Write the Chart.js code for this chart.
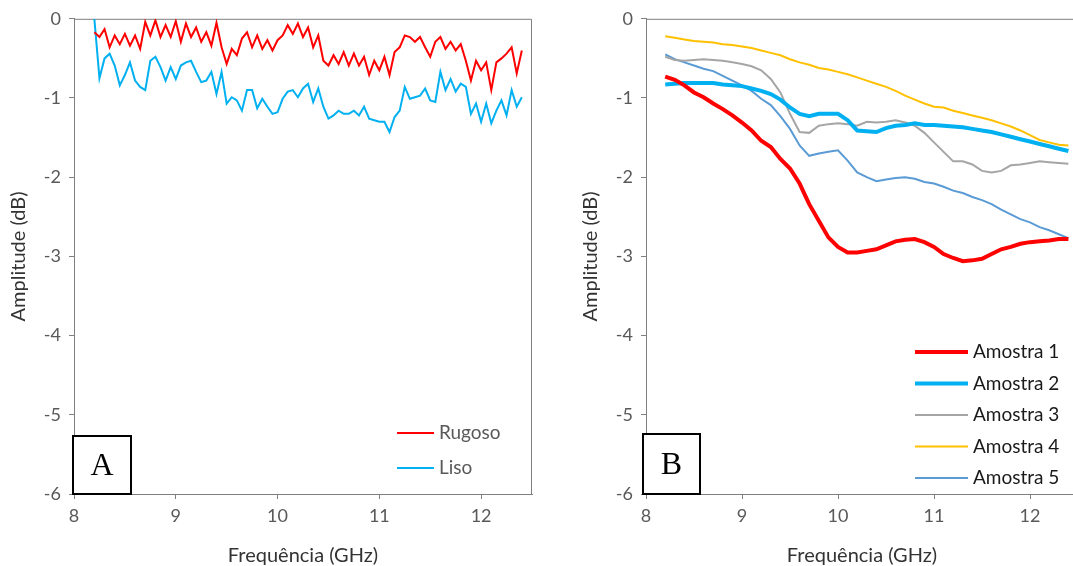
<!DOCTYPE html>
<html>
<head>
<meta charset="utf-8">
<script src="https://cdn.jsdelivr.net/npm/chart.js@4.4.1/dist/chart.umd.min.js"></script>
<style>
  html, body { margin: 0; padding: 0; background: #fff; overflow: hidden; }
  #wrap { position: relative; width: 1073px; height: 566px; overflow: hidden; }
  canvas { position: absolute; top: 0; }
  #chartA { left: 0; }
  #chartB { left: 540px; }
</style>
</head>
<body>
<div id="wrap">
  <canvas id="chartA" width="540" height="566"></canvas>
  <canvas id="chartB" width="540" height="566"></canvas>
</div>
<script>
// ---- data ----
const freqTicks = [8, 9, 10, 11, 12];
const ampTicks = [-6, -5, -4, -3, -2, -1, 0];

// panel A, 0.05 GHz steps
const freqA = [8.20, 8.25, 8.30, 8.35, 8.40, 8.45, 8.50, 8.55, 8.60, 8.65,
  8.70, 8.75, 8.80, 8.85, 8.90, 8.95, 9.00, 9.05, 9.10, 9.15,
  9.20, 9.25, 9.30, 9.35, 9.40, 9.45, 9.50, 9.55, 9.60, 9.65,
  9.70, 9.75, 9.80, 9.85, 9.90, 9.95, 10.00, 10.05, 10.10, 10.15,
  10.20, 10.25, 10.30, 10.35, 10.40, 10.45, 10.50, 10.55, 10.60, 10.65,
  10.70, 10.75, 10.80, 10.85, 10.90, 10.95, 11.00, 11.05, 11.10, 11.15,
  11.20, 11.25, 11.30, 11.35, 11.40, 11.45, 11.50, 11.55, 11.60, 11.65,
  11.70, 11.75, 11.80, 11.85, 11.90, 11.95, 12.00, 12.05, 12.10, 12.15,
  12.20, 12.25, 12.30, 12.35, 12.40];

const rugoso = [-0.17, -0.23, -0.13, -0.36, -0.21, -0.32, -0.19, -0.34, -0.21, -0.38,
  -0.04, -0.21, -0.02, -0.23, -0.08, -0.23, -0.03, -0.29, -0.06, -0.23,
  -0.11, -0.29, -0.17, -0.34, -0.05, -0.36, -0.57, -0.38, -0.46, -0.25,
  -0.17, -0.36, -0.21, -0.38, -0.27, -0.40, -0.27, -0.21, -0.08, -0.19,
  -0.06, -0.23, -0.11, -0.36, -0.21, -0.53, -0.59, -0.46, -0.57, -0.42,
  -0.59, -0.44, -0.59, -0.48, -0.71, -0.53, -0.65, -0.48, -0.71, -0.42,
  -0.36, -0.21, -0.23, -0.29, -0.23, -0.36, -0.48, -0.29, -0.23, -0.38,
  -0.29, -0.40, -0.32, -0.53, -0.78, -0.53, -0.65, -0.55, -0.90, -0.55,
  -0.50, -0.44, -0.36, -0.69, -0.40];

const liso = [0.00, -0.75, -0.50, -0.44, -0.59, -0.84, -0.71, -0.55, -0.78, -0.86,
  -0.90, -0.53, -0.48, -0.61, -0.78, -0.61, -0.76, -0.59, -0.55, -0.53,
  -0.67, -0.80, -0.78, -0.67, -0.95, -0.67, -1.07, -0.99, -1.03, -1.16,
  -0.90, -0.90, -1.13, -1.01, -1.11, -1.20, -1.18, -1.01, -0.92, -0.90,
  -0.99, -0.88, -0.82, -1.05, -0.88, -1.11, -1.26, -1.22, -1.16, -1.20,
  -1.20, -1.16, -1.22, -1.11, -1.26, -1.28, -1.30, -1.30, -1.43, -1.24,
  -1.16, -0.86, -1.01, -0.99, -0.97, -0.88, -1.03, -1.05, -0.67, -0.90,
  -0.76, -0.92, -0.82, -0.86, -1.20, -1.07, -1.30, -1.07, -1.32, -1.16,
  -1.03, -1.22, -0.90, -1.11, -0.99];

// panel B, 0.1 GHz steps
const freqB = [8.2, 8.3, 8.4, 8.5, 8.6, 8.7, 8.8, 8.9, 9.0, 9.1,
  9.2, 9.3, 9.4, 9.5, 9.6, 9.7, 9.8, 9.9, 10.0, 10.1,
  10.2, 10.3, 10.4, 10.5, 10.6, 10.7, 10.8, 10.9, 11.0, 11.1,
  11.2, 11.3, 11.4, 11.5, 11.6, 11.7, 11.8, 11.9, 12.0, 12.1,
  12.2, 12.3, 12.4];

const amostra1 = [-0.73, -0.77, -0.84, -0.93, -0.99, -1.07, -1.14, -1.22, -1.31, -1.41,
  -1.54, -1.62, -1.77, -1.89, -2.08, -2.34, -2.55, -2.76, -2.88, -2.95,
  -2.95, -2.93, -2.91, -2.86, -2.81, -2.79, -2.78, -2.82, -2.88, -2.97,
  -3.02, -3.06, -3.05, -3.03, -2.97, -2.91, -2.88, -2.84, -2.82, -2.81,
  -2.80, -2.78, -2.78];

const amostra2 = [-0.83, -0.82, -0.81, -0.81, -0.81, -0.81, -0.83, -0.84, -0.85, -0.88,
  -0.91, -0.95, -1.02, -1.12, -1.20, -1.23, -1.20, -1.20, -1.20, -1.28,
  -1.41, -1.42, -1.43, -1.38, -1.35, -1.34, -1.32, -1.34, -1.34, -1.35,
  -1.36, -1.37, -1.39, -1.41, -1.43, -1.46, -1.49, -1.52, -1.55, -1.58,
  -1.61, -1.64, -1.67];

const amostra3 = [-0.48, -0.52, -0.53, -0.52, -0.51, -0.52, -0.53, -0.55, -0.57, -0.60,
  -0.65, -0.76, -0.93, -1.20, -1.43, -1.44, -1.35, -1.33, -1.32, -1.33,
  -1.35, -1.30, -1.31, -1.30, -1.28, -1.31, -1.35, -1.44, -1.56, -1.68,
  -1.80, -1.80, -1.84, -1.92, -1.94, -1.92, -1.85, -1.84, -1.82, -1.80,
  -1.81, -1.82, -1.83];

const amostra4 = [-0.22, -0.24, -0.26, -0.28, -0.29, -0.30, -0.32, -0.33, -0.35, -0.37,
  -0.40, -0.43, -0.46, -0.51, -0.55, -0.58, -0.62, -0.64, -0.67, -0.70,
  -0.74, -0.78, -0.82, -0.86, -0.91, -0.97, -1.02, -1.07, -1.11, -1.12,
  -1.16, -1.19, -1.22, -1.25, -1.28, -1.32, -1.36, -1.41, -1.47, -1.53,
  -1.56, -1.59, -1.60];

const amostra5 = [-0.45, -0.51, -0.55, -0.59, -0.63, -0.66, -0.72, -0.78, -0.84, -0.91,
  -1.01, -1.09, -1.23, -1.39, -1.60, -1.73, -1.70, -1.68, -1.66, -1.79,
  -1.94, -2.00, -2.05, -2.03, -2.01, -2.00, -2.02, -2.06, -2.08, -2.12,
  -2.17, -2.20, -2.25, -2.29, -2.34, -2.41, -2.47, -2.53, -2.57, -2.63,
  -2.67, -2.72, -2.77];

// ---- helpers ----
const FONT = "Lato, 'Open Sans', sans-serif";
const AXIS_GRAY = "#7f7f7f";

function pts(xs, ys) {
  return xs.map((x, i) => ({ x: x, y: ys[i] }));
}

function line(label, xs, ys, color, width) {
  return {
    label: label,
    data: pts(xs, ys),
    borderColor: color,
    backgroundColor: color,
    borderWidth: width,
    pointRadius: 0,
    tension: 0,
    fill: false,
  };
}

// frame on top/right of plot area
const frame = {
  id: "frame",
  beforeDatasetsDraw(chart) {
    const { ctx, chartArea: a } = chart;
    ctx.save();
    ctx.strokeStyle = AXIS_GRAY;
    ctx.lineWidth = 1;
    ctx.beginPath();
    ctx.moveTo(a.left, a.top + 0.5);
    ctx.lineTo(a.right - 0.5, a.top + 0.5);
    ctx.lineTo(a.right - 0.5, a.bottom);
    ctx.stroke();
    ctx.restore();
  },
};

// legend + panel letter box
const extras = {
  id: "extras",
  afterDraw(chart, args, opts) {
    const ctx = chart.ctx;
    ctx.save();
    chart.data.datasets.forEach((ds, i) => {
      const y = opts.legendY + i * opts.legendDy;
      ctx.strokeStyle = ds.borderColor;
      ctx.lineWidth = ds.borderWidth;
      ctx.beginPath();
      ctx.moveTo(opts.legendX, y);
      ctx.lineTo(opts.legendX + opts.lineLen, y);
      ctx.stroke();
      ctx.fillStyle = opts.textColor;
      ctx.font = "19px " + FONT;
      ctx.textBaseline = "middle";
      ctx.textAlign = "left";
      ctx.fillText(ds.label, opts.legendX + opts.lineLen + 5, y);
    });
    const b = opts.box;
    ctx.fillStyle = "#fff";
    ctx.fillRect(b.x, b.y, b.w, b.h);
    ctx.strokeStyle = "#000";
    ctx.lineWidth = 2;
    ctx.strokeRect(b.x, b.y, b.w, b.h);
    ctx.fillStyle = "#000";
    ctx.font = "32px 'Liberation Serif', serif";
    ctx.textAlign = "center";
    ctx.textBaseline = "middle";
    ctx.fillText(b.letter, b.x + b.w / 2, b.y + b.h / 2 + 2);
    ctx.restore();
  },
};

function scales(yWidth) {
  return {
    x: {
      type: "linear",
      min: 8,
      max: 12.5,
      afterBuildTicks: (s) => { s.ticks = freqTicks.map((v) => ({ value: v })); },
      afterFit: (s) => { s.height = 72; },
      border: { display: true, color: AXIS_GRAY, width: 1 },
      grid: { display: true, drawOnChartArea: false, drawTicks: true, tickLength: 5, color: AXIS_GRAY },
      ticks: { color: "#595959", font: { family: FONT, size: 18 }, padding: 6, maxRotation: 0 },
      title: { display: true, text: "Frequência (GHz)", color: "#333333", font: { family: FONT, size: 20 }, padding: { top: 0, bottom: -2 } },
    },
    y: {
      min: -6,
      max: 0,
      afterBuildTicks: (s) => { s.ticks = ampTicks.map((v) => ({ value: v })); },
      afterFit: (s) => { s.width = yWidth; },
      border: { display: true, color: AXIS_GRAY, width: 1 },
      grid: { display: true, drawOnChartArea: false, drawTicks: true, tickLength: 5, color: AXIS_GRAY },
      ticks: { color: "#595959", font: { family: FONT, size: 18 }, padding: 8 },
      title: { display: true, text: "Amplitude (dB)", color: "#333333", font: { family: FONT, size: 20 }, padding: { top: 7, bottom: 0 } },
    },
  };
}

function makeChart(id, datasets, padding, yWidth, extraOpts) {
  return new Chart(document.getElementById(id), {
    type: "line",
    data: { datasets: datasets },
    options: {
      responsive: false,
      animation: false,
      devicePixelRatio: 1,
      layout: { padding: padding },
      plugins: { legend: { display: false }, tooltip: { enabled: false }, extras: extraOpts },
      scales: scales(yWidth),
    },
    plugins: [frame, extras],
  });
}

makeChart("chartA", [
  line("Rugoso", freqA, rugoso, "#FF0000", 2),
  line("Liso", freqA, liso, "#00B0F0", 2),
], { left: 0, right: 8, top: 18, bottom: 0 }, 74, {
  legendX: 397, legendY: 433, legendDy: 35, lineLen: 37, textColor: "#595959",
  box: { x: 73, y: 436, w: 58, h: 58, letter: "A" },
});

makeChart("chartB", [
  line("Amostra 1", freqB, amostra1, "#FF0000", 4),
  line("Amostra 2", freqB, amostra2, "#00B0F0", 4),
  line("Amostra 3", freqB, amostra3, "#A5A5A5", 2),
  line("Amostra 4", freqB, amostra4, "#FFC000", 2),
  line("Amostra 5", freqB, amostra5, "#5B9BD5", 2),
], { left: 32, right: 2, top: 18, bottom: 0 }, 74, {
  legendX: 375, legendY: 352, legendDy: 31.5, lineLen: 53, textColor: "#1a1a1a",
  box: { x: 103, y: 434, w: 57, h: 60, letter: "B" },
});
</script>
</body>
</html>
